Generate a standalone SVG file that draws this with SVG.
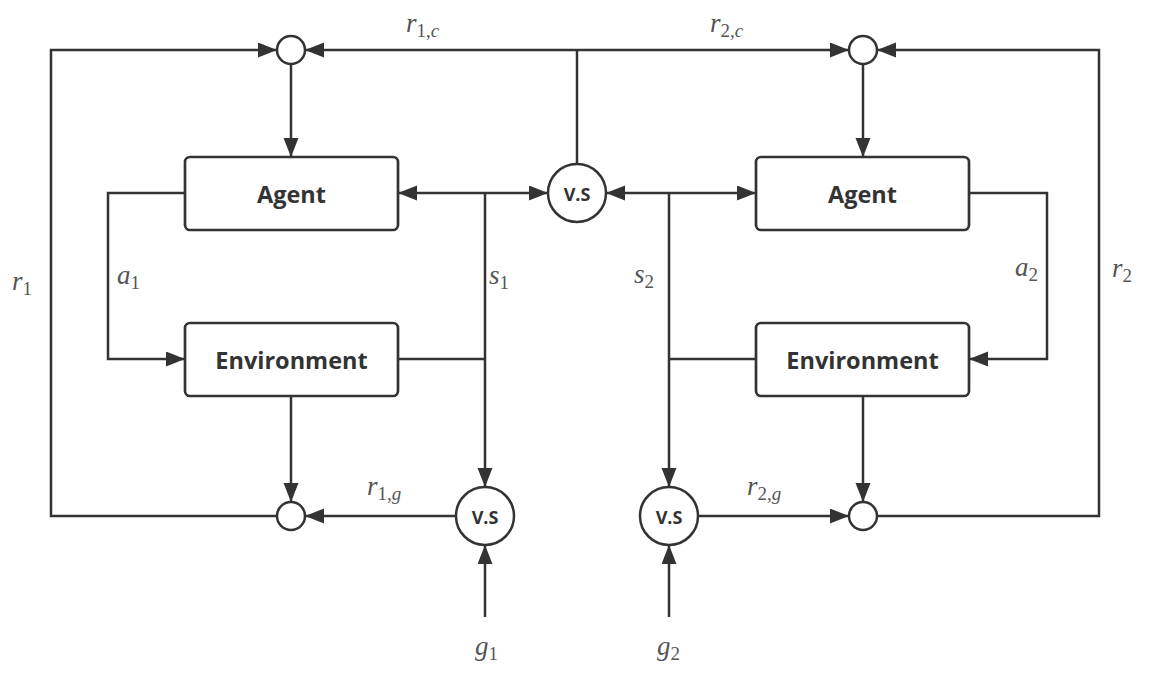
<svg xmlns="http://www.w3.org/2000/svg" width="1159" height="683" viewBox="0 0 1159 683">
<defs>
<marker id="arr" markerUnits="userSpaceOnUse" markerWidth="20" markerHeight="16" refX="19" refY="7.5" orient="auto">
<path d="M0,0 L19,7.5 L0,15 z" fill="#333"/>
</marker>
<style>
.box{fill:#fff;stroke:#333;stroke-width:2.7}
.sm{fill:#fff;stroke:#333;stroke-width:2.5}
.ln{fill:none;stroke:#333;stroke-width:2.5}
.ar{fill:none;stroke:#333;stroke-width:2.5;marker-end:url(#arr)}
.bt{font-family:"Open Sans","Noto Sans",sans-serif;font-weight:700;font-size:23.5px;fill:#333;text-anchor:middle;dominant-baseline:central}
.vs{font-family:"Open Sans","Noto Sans",sans-serif;font-weight:700;font-size:18px;fill:#333;text-anchor:middle;dominant-baseline:central}
.m{font-family:"Liberation Serif","Times New Roman",serif;font-size:27px;fill:#555}
.i{font-style:italic}
.sub{font-size:19px}
</style>
</defs>
<rect width="1159" height="683" fill="#fff"/>
<g id="connectors">
<path class="ln" d="M577,164 V50"/>
<path class="ar" d="M577,50 H305"/>
<path class="ar" d="M577,50 H849"/>
<path class="ar" d="M277,516 H51 V50 H277"/>
<path class="ar" d="M877,516 H1099 V50 H877"/>
<path class="ar" d="M291,64 V157"/>
<path class="ar" d="M863,64 V157"/>
<path class="ar" d="M185,193 H108 V359 H185"/>
<path class="ar" d="M969,193 H1047 V359 H969"/>
<path class="ar" d="M291,396 V502"/>
<path class="ar" d="M863,396 V502"/>
<path class="ar" d="M485,193 H398"/>
<path class="ar" d="M485,193 H548"/>
<path class="ar" d="M485,193 V487"/>
<path class="ln" d="M398,359 H485"/>
<path class="ar" d="M669,193 H756"/>
<path class="ar" d="M669,193 H606"/>
<path class="ar" d="M669,193 V487"/>
<path class="ln" d="M756,359 H669"/>
<path class="ar" d="M456,516 H305"/>
<path class="ar" d="M698,516 H849"/>
<path class="ar" d="M485,617 V545"/>
<path class="ar" d="M669,617 V545"/>
</g>
<g id="sum1c"><circle class="sm" cx="291" cy="50" r="14"/></g>
<g id="sum2c"><circle class="sm" cx="863" cy="50" r="14"/></g>
<g id="sum1g"><circle class="sm" cx="291" cy="516" r="14"/></g>
<g id="sum2g"><circle class="sm" cx="863" cy="516" r="14"/></g>
<g id="agent1"><rect class="box" x="185" y="157" width="213" height="73" rx="5"/><text class="bt" x="291.5" y="194">Agent</text></g>
<g id="env1"><rect class="box" x="185" y="323" width="213" height="73" rx="5"/><text class="bt" x="291.5" y="360">Environment</text></g>
<g id="agent2"><rect class="box" x="756" y="157" width="213" height="73" rx="5"/><text class="bt" x="862.5" y="194">Agent</text></g>
<g id="env2"><rect class="box" x="756" y="323" width="213" height="73" rx="5"/><text class="bt" x="862.5" y="360">Environment</text></g>
<g id="vsc"><circle class="sm" cx="577" cy="193" r="29"/><text class="vs" x="577" y="194">V.S</text></g>
<g id="vs1"><circle class="sm" cx="485" cy="516" r="29"/><text class="vs" x="485" y="517">V.S</text></g>
<g id="vs2"><circle class="sm" cx="669" cy="516" r="29"/><text class="vs" x="669" y="517">V.S</text></g>
<g id="labels">
<text class="m" x="406" y="32"><tspan class="i">r</tspan><tspan class="sub" dy="5">1,</tspan><tspan class="sub i">c</tspan></text>
<text class="m" x="710" y="32"><tspan class="i">r</tspan><tspan class="sub" dy="5">2,</tspan><tspan class="sub i">c</tspan></text>
<text class="m" x="12" y="290"><tspan class="i">r</tspan><tspan class="sub" dy="5">1</tspan></text>
<text class="m" x="117" y="284"><tspan class="i">a</tspan><tspan class="sub" dy="5">1</tspan></text>
<text class="m" x="489" y="284"><tspan class="i">s</tspan><tspan class="sub" dy="5">1</tspan></text>
<text class="m" x="634" y="283"><tspan class="i">s</tspan><tspan class="sub" dy="5">2</tspan></text>
<text class="m" x="1015" y="276"><tspan class="i">a</tspan><tspan class="sub" dy="5">2</tspan></text>
<text class="m" x="1112" y="277"><tspan class="i">r</tspan><tspan class="sub" dy="5">2</tspan></text>
<text class="m" x="367" y="495"><tspan class="i">r</tspan><tspan class="sub" dy="5">1,</tspan><tspan class="sub i">g</tspan></text>
<text class="m" x="747" y="495"><tspan class="i">r</tspan><tspan class="sub" dy="5">2,</tspan><tspan class="sub i">g</tspan></text>
<text class="m" x="475" y="655"><tspan class="i">g</tspan><tspan class="sub" dy="5">1</tspan></text>
<text class="m" x="657" y="655"><tspan class="i">g</tspan><tspan class="sub" dy="5">2</tspan></text>
</g>
</svg>
